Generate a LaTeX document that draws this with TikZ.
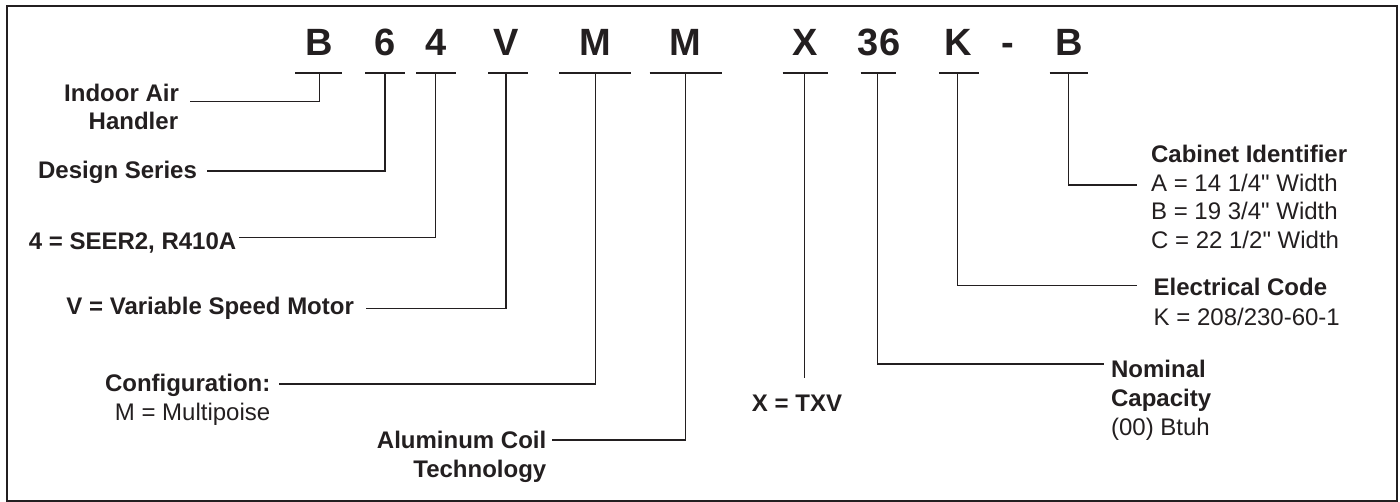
\documentclass[tikz,border=0pt]{standalone}
\usepackage{fontspec}
\setmainfont{Liberation Sans}[Ligatures=TeXOff]
\definecolor{ink}{HTML}{231F20}
\begin{document}
\begin{tikzpicture}[x=0.5pt,y=-0.5pt,
  code/.style={font=\fontsize{19}{21}\selectfont\bfseries, text=ink, inner sep=0pt, anchor=base},
  lbl/.style={font=\fontsize{12}{14}\selectfont\bfseries, text=ink, inner sep=0pt},
  val/.style={font=\fontsize{12}{14}\selectfont, text=ink, inner sep=0pt},
  uline/.style={draw=ink, line width=0.85pt},
  conn/.style={draw=ink, line width=0.6pt},
  frame/.style={draw=ink, line width=1pt}
]
\useasboundingbox (0,0) rectangle (1400,502);
\draw[frame] (7.3,6) rectangle (1396.5,500.8);

% code letters
\node[code] (cB)  at (319.3,56) {B};
\node[code] (c6)  at (385,56) {6};
\node[code] (c4)  at (435.7,56) {4};
\node[code] (cV)  at (506,56) {V};
\node[code] (cM)  at (595,56) {M};
\node[code] (cM2) at (685.3,56) {M};
\node[code] (cX)  at (805,56) {X};
\node[code] (c36) at (879,56) {36};
\node[code] (cK)  at (958,56) {K};
\node[code] (cD)  at (1008,56) {-};
\node[code] (cB2) at (1069,56) {B};

% underlines
\coordinate (uBl) at (295,72.7);   \coordinate (uBr) at (341.5,72.7);
\coordinate (u6l) at (365.3,72.7); \coordinate (u6r) at (404.7,72.7);
\coordinate (u4l) at (416,72.7);   \coordinate (u4r) at (455.7,72.7);
\coordinate (uVl) at (488,72.7);   \coordinate (uVr) at (527.7,72.7);
\coordinate (uMl) at (559,72.7);   \coordinate (uMr) at (631,72.7);
\coordinate (uM2l) at (649.7,72.7); \coordinate (uM2r) at (721.7,72.7);
\coordinate (uXl) at (782.6,72.7); \coordinate (uXr) at (828.1,72.7);
\coordinate (u36l) at (860.7,72.7); \coordinate (u36r) at (896.4,72.7);
\coordinate (uKl) at (938.8,72.7); \coordinate (uKr) at (979,72.7);
\coordinate (uB2l) at (1049.5,72.7); \coordinate (uB2r) at (1088.4,72.7);
\foreach \n in {B,6,4,V,M,M2,X,36,K,B2} {\draw[uline] (u\n l) -- (u\n r);}

% connector start points (on the underlines)
\coordinate (sB)  at (319.8,72.7);
\coordinate (s6)  at (385,72.7);
\coordinate (s4)  at (435.8,72.7);
\coordinate (sV)  at (506,72.7);
\coordinate (sM)  at (595.4,72.7);
\coordinate (sM2) at (685.8,72.7);
\coordinate (sX)  at (804.3,72.7);
\coordinate (s36) at (877.7,72.7);
\coordinate (sK)  at (957.7,72.7);
\coordinate (sB2) at (1068.3,72.7);

% connector end points
\coordinate (eB)  at (190,101.7);
\coordinate (e6)  at (207.3,171);
\coordinate (e4)  at (239.3,237.7);
\coordinate (eV)  at (366,308.3);
\coordinate (eM)  at (279.3,384);
\coordinate (eM2) at (552.3,440);
\coordinate (eX)  at (804.3,378.3);
\coordinate (e36) at (1104,364);
\coordinate (eK)  at (1137.3,285.7);
\coordinate (eB2) at (1137.3,185);

\draw[conn] (sB) |- (eB);
\draw[conn] (s6) |- (e6);
\draw[conn] (s4) |- (e4);
\draw[conn] (sV) |- (eV);
\draw[conn] (sM) |- (eM);
\draw[conn] (sM2) |- (eM2);
\draw[conn] (sX) -- (eX);
\draw[conn] (s36) |- (e36);
\draw[conn] (sK) |- (eK);
\draw[conn] (sB2) |- (eB2);

% left labels
\node[lbl, anchor=base east] (tIndoor) at (179.3,101.7) {Indoor Air};
\node[lbl, anchor=base east] (tHandler) at (178.5,130) {Handler};
\node[lbl, anchor=base east] (tDesign) at (197.3,178.3) {Design Series};
\node[lbl, anchor=base east] (tSeer) at (236.7,249.6) {4 = SEER2, R410A};
\node[lbl, anchor=base east] (tVar) at (354.3,314) {V = Variable Speed Motor};
\node[lbl, anchor=base east] (tConf) at (270.7,391.6) {Configuration:};
\node[val, anchor=base east] (tMulti) at (270.7,420.3) {M = Multipoise};
\node[lbl, anchor=base east] (tAlu) at (546.7,448.7) {Aluminum Coil};
\node[lbl, anchor=base east] (tTech) at (546.7,477) {Technology};
\node[lbl, anchor=base] (tTxv) at (797,411.7) {X = TXV};

% right labels
\node[lbl, anchor=base west] (tCab) at (1150.7,162.7) {Cabinet Identifier};
\node[val, anchor=base west] (tCabA) at (1150.7,191.7) {A = 14 1/4" Width};
\node[val, anchor=base west] (tCabB) at (1150.7,220) {B = 19 3/4" Width};
\node[val, anchor=base west] (tCabC) at (1150.7,248.4) {C = 22 1/2" Width};
\node[lbl, anchor=base west] (tElec) at (1153.3,295.7) {Electrical Code};
\node[val, anchor=base west] (tElecK) at (1153.3,325) {K = 208/230-60-1};
\node[lbl, anchor=base west] (tNom) at (1110.7,377.3) {Nominal};
\node[lbl, anchor=base west] (tCap) at (1110.7,406) {Capacity};
\node[val, anchor=base west] (tBtuh) at (1110.7,435) {(00) Btuh};
\end{tikzpicture}
\end{document}
